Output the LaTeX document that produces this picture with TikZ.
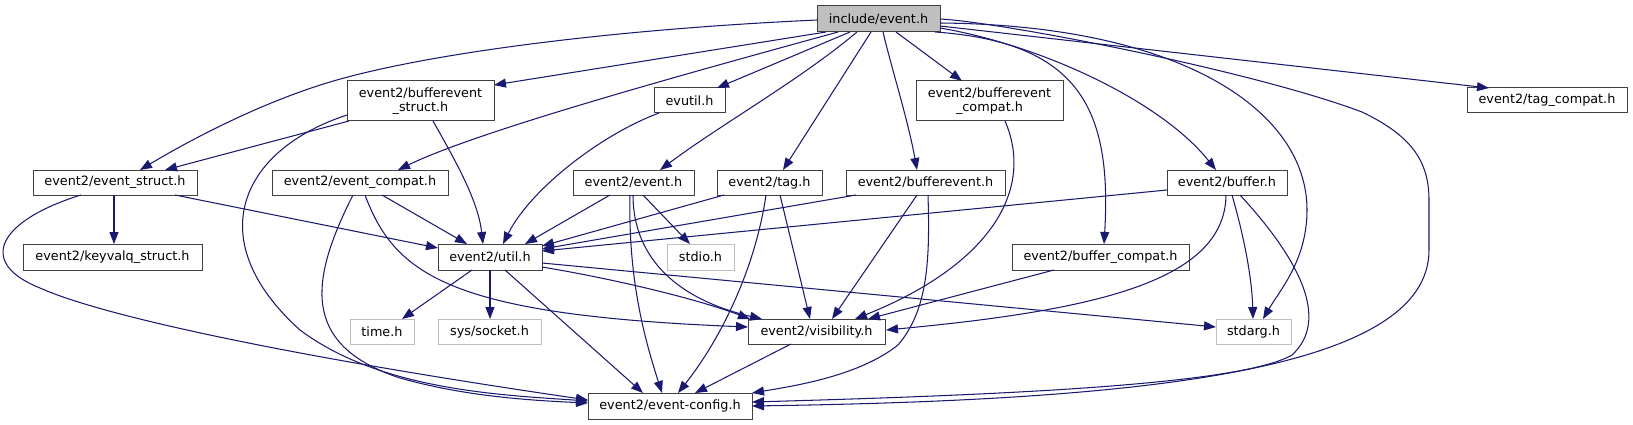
\documentclass[tikz,border=0pt]{standalone}
\usepackage{fontspec}
\setmainfont{DejaVu Sans}
\usetikzlibrary{arrows.meta,calc}
\definecolor{edgec}{HTML}{191970}
\definecolor{sysgray}{HTML}{BFBFBF}
\definecolor{bord}{HTML}{404040}
\begin{document}
\begin{tikzpicture}[x=1pt,y=-1pt,
  box/.style={draw=bord,line width=1pt,fill=white,inner sep=0pt,font=\fontsize{12.8}{14.5}\selectfont,align=center},
  sys/.style={box,draw=sysgray},
  dep/.style={draw=edgec,line width=1.05pt,-{Triangle[length=12pt,width=9pt]}},
]
\useasboundingbox (0,0) rectangle (1633,425);
% nodes
\node[box,fill=sysgray,minimum width=123pt,minimum height=26pt] (inc) at (878.5,19) {include/event.h};
\node[box,minimum width=147pt,minimum height=40pt] (bes) at (420.5,101) {event2/bufferevent\\\_struct.h};
\node[box,minimum width=71pt,minimum height=25pt] (evutil) at (689.5,100.5) {evutil.h};
\node[box,minimum width=147pt,minimum height=40pt] (bec) at (989.5,101) {event2/bufferevent\\\_compat.h};
\node[box,minimum width=160pt,minimum height=25pt] (tagc) at (1547,100.5) {event2/tag\_compat.h};
\node[box,minimum width=164pt,minimum height=25pt] (es) at (115,182.5) {event2/event\_struct.h};
\node[box,minimum width=176pt,minimum height=25pt] (ec) at (360,182.5) {event2/event\_compat.h};
\node[box,minimum width=121pt,minimum height=25pt] (ev) at (633.5,182.5) {event2/event.h};
\node[box,minimum width=105pt,minimum height=25pt] (tag) at (769.5,182.5) {event2/tag.h};
\node[box,minimum width=159pt,minimum height=25pt] (be) at (925.5,182.5) {event2/bufferevent.h};
\node[box,minimum width=120pt,minimum height=25pt] (buf) at (1227,182.5) {event2/buffer.h};
\node[box,minimum width=179pt,minimum height=26pt] (kv) at (112.5,257) {event2/keyvalq\_struct.h};
\node[box,minimum width=104pt,minimum height=26pt] (util) at (490,257) {event2/util.h};
\node[sys,minimum width=67pt,minimum height=26pt] (stdio) at (700.5,257) {stdio.h};
\node[box,minimum width=177pt,minimum height=26pt] (bc) at (1100.5,257) {event2/buffer\_compat.h};
\node[sys,minimum width=64pt,minimum height=25pt] (time) at (382,331.5) {time.h};
\node[sys,minimum width=103pt,minimum height=25pt] (sock) at (489.5,331.5) {sys/socket.h};
\node[box,minimum width=137pt,minimum height=25pt] (vis) at (816.5,331.5) {event2/visibility.h};
\node[sys,minimum width=75pt,minimum height=25pt] (stdarg) at (1253.5,331.5) {stdarg.h};
\node[box,minimum width=164pt,minimum height=26pt] (cfg) at (670,406) {event2/event-config.h};
% edges from include/event.h
\draw[dep] ($(inc)+(-61.5,1)$) .. controls (600,30) and (420,55) .. (330,82) .. controls (260,103) and (190,140) .. ($(es)+(25,-12.5)$);
\draw[dep] ($(inc)+(-52.5,13)$) -- ($(bes)+(73.5,-16)$);
\draw[dep] ($(inc)+(-28.5,13)$) -- ($(evutil)+(27.5,-12.5)$);
\draw[dep] ($(inc)+(-40.5,13)$) .. controls (700,70) and (480,130) .. ($(ec)+(38,-12.5)$);
\draw[dep] ($(inc)+(-21.5,13)$) .. controls (800,80) and (720,125) .. ($(ev)+(26.5,-12.5)$);
\draw[dep] ($(inc)+(-7.5,13)$) -- ($(tag)+(13.5,-12.5)$);
\draw[dep] ($(inc)+(4.5,13)$) .. controls (892,70) and (908,120) .. ($(be)+(-8.5,-12.5)$);
\draw[dep] ($(inc)+(17.5,13)$) -- ($(bec)+(-27.5,-20)$);
\draw[dep] ($(inc)+(56.5,13)$) .. controls (1080,42) and (1112,110) .. ($(bc)+(3.5,-13)$);
\draw[dep] ($(inc)+(61.5,9)$) .. controls (1040,45) and (1160,100) .. ($(buf)+(-11,-12.5)$);
\draw[dep] ($(inc)+(61.5,4)$) .. controls (1180,25) and (1307,110) .. (1307,210) .. controls (1307,260) and (1280,290) .. ($(stdarg)+(9.5,-12.5)$);
\draw[dep] ($(inc)+(61.5,0)$) .. controls (1000,22) and (1250,70) .. (1362,112) .. controls (1410,135) and (1429,160) .. (1429,200) -- (1429,250) .. controls (1429,370) and (1150,400) .. ($(cfg)+(82,0)$);
\draw[dep] ($(inc)+(61.5,7)$) -- ($(tagc)+(-58,-12.5)$);
% bufferevent_struct
\draw[dep] ($(bes)+(-71.5,20)$) -- ($(es)+(50,-12.5)$);
\draw[dep] ($(bes)+(12.5,20)$) .. controls (455,160) and (478,200) .. ($(util)+(-7,-13)$);
\draw[dep] ($(bes)+(-73.5,14)$) .. controls (240,150) and (200,240) .. (300,330) .. controls (380,390) and (500,395) .. ($(cfg)+(-82,-5)$);
% evutil
\draw[dep] ($(evutil)+(-30.5,12.5)$) .. controls (600,135) and (530,190) .. ($(util)+(13,-13)$);
% bufferevent_compat
\draw[dep] ($(bec)+(15.5,20)$) .. controls (1035,190) and (990,265) .. ($(vis)+(38.5,-12.5)$);
% event_struct
\draw[dep] ($(es)+(-1,12.5)$) -- ($(kv)+(1.5,-13)$);
\draw[dep] ($(es)+(60,12.5)$) -- ($(util)+(-52,-9)$);
\draw[dep] ($(es)+(-34,12.5)$) .. controls (0,220) and (-25,262) .. (40,288) .. controls (100,315) and (280,355) .. ($(cfg)+(-82,-6)$);
% event_compat
\draw[dep] ($(ec)+(22,12.5)$) -- ($(util)+(-23,-13)$);
\draw[dep] ($(ec)+(5,12.5)$) .. controls (395,275) and (450,315) .. ($(vis)+(-68.5,-4.5)$);
\draw[dep] ($(ec)+(-7,12.5)$) .. controls (310,280) and (300,345) .. (400,378) .. controls (460,395) and (520,400) .. ($(cfg)+(-82,-3)$);
% event2/event.h
\draw[dep] ($(ev)+(-23.5,12.5)$) -- ($(util)+(35,-13)$);
\draw[dep] ($(ev)+(9.5,12.5)$) -- ($(stdio)+(-10.5,-13)$);
\draw[dep] ($(ev)+(-0.5,12.5)$) .. controls (633,260) and (680,300) .. ($(vis)+(-54.5,-12.5)$);
\draw[dep] ($(ev)+(-3.5,12.5)$) .. controls (628,280) and (645,340) .. ($(cfg)+(-8,-13)$);
% tag.h
\draw[dep] ($(tag)+(-45.5,12.5)$) -- ($(util)+(52,-11)$);
\draw[dep] ($(tag)+(10.5,12.5)$) -- ($(vis)+(-6.5,-12.5)$);
\draw[dep] ($(tag)+(-3.5,12.5)$) .. controls (755,270) and (720,340) .. ($(cfg)+(8,-13)$);
% bufferevent.h
\draw[dep] ($(be)+(-69.5,12.5)$) -- ($(util)+(52,-8)$);
\draw[dep] ($(be)+(-8.5,12.5)$) -- ($(vis)+(15.5,-12.5)$);
\draw[dep] ($(be)+(2.5,12.5)$) .. controls (930,260) and (928,310) .. (898,345) .. controls (860,375) and (800,385) .. ($(cfg)+(82,-13)$);
% buffer.h
\draw[dep] ($(buf)+(-60,7.5)$) -- ($(util)+(52,-6)$);
\draw[dep] ($(buf)+(-1,12.5)$) .. controls (1225,280) and (1100,310) .. ($(vis)+(69.5,-1.5)$);
\draw[dep] ($(buf)+(5,12.5)$) .. controls (1245,240) and (1252,280) .. ($(stdarg)+(-0.5,-12.5)$);
\draw[dep] ($(buf)+(13,12.5)$) .. controls (1300,260) and (1330,320) .. (1292,355) .. controls (1240,385) and (1000,395) .. ($(cfg)+(82,-4)$);
% buffer_compat
\draw[dep] ($(bc)+(-46.5,13)$) -- ($(vis)+(51.5,-12.5)$);
% util.h
\draw[dep] ($(util)+(-18,13)$) -- ($(time)+(20,-12.5)$);
\draw[dep] ($(util)+(0,13)$) -- ($(sock)+(0.5,-12.5)$);
\draw[dep] ($(util)+(52,10)$) .. controls (620,280) and (700,300) .. ($(vis)+(-66.5,-12.5)$);
\draw[dep] ($(util)+(15,13)$) -- ($(cfg)+(-27,-13)$);
\draw[dep] ($(util)+(52,6)$) -- ($(stdarg)+(-37.5,-4.5)$);
% visibility
\draw[dep] ($(vis)+(-25.5,12.5)$) -- ($(cfg)+(25,-13)$);
\end{tikzpicture}
\end{document}
